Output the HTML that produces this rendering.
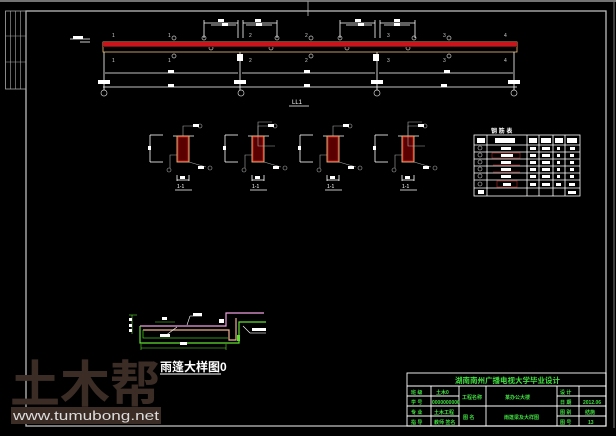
<!DOCTYPE html>
<html><head><meta charset="utf-8"><style>
html,body{margin:0;padding:0;background:#000;width:616px;height:436px;overflow:hidden}
svg{display:block}
text{font-family:"Liberation Sans","Noto Sans CJK SC",sans-serif}
</style></head><body>
<svg width="616" height="436" viewBox="0 0 616 436" xmlns="http://www.w3.org/2000/svg">
<rect width="616" height="436" fill="#000"/>
<!-- outer frame -->
<line x1="0" y1="1" x2="616" y2="1" stroke="#999" stroke-width="1.5"/>
<line x1="308" y1="1" x2="308" y2="16" stroke="#999"/>
<line x1="614" y1="1" x2="614" y2="428" stroke="#777"/>
<!-- inner frame -->
<rect x="26" y="11" width="580" height="415" fill="none" stroke="#bbb" stroke-width="1.3"/>
<!-- left strip -->
<rect x="5.5" y="11" width="20.5" height="78" fill="none" stroke="#aaa" stroke-width="0.8"/>
<line x1="10.5" y1="11" x2="10.5" y2="89" stroke="#aaa" stroke-width="0.6"/>
<line x1="15.5" y1="11" x2="15.5" y2="89" stroke="#aaa" stroke-width="0.6"/>
<line x1="20.5" y1="11" x2="20.5" y2="89" stroke="#aaa" stroke-width="0.6"/>
<line x1="5.5" y1="36" x2="26" y2="36" stroke="#aaa" stroke-width="0.6"/>
<line x1="5.5" y1="62" x2="26" y2="62" stroke="#aaa" stroke-width="0.6"/>

<!-- beam elevation -->
<g stroke="#fff" stroke-width="0.8" fill="none">
<line x1="70" y1="39" x2="90" y2="39"/><line x1="80" y1="42" x2="90" y2="42"/>
<line x1="103" y1="87" x2="517" y2="87"/>
<line x1="105" y1="73" x2="238" y2="73"/><line x1="242" y1="73" x2="375" y2="73"/><line x1="379" y1="73" x2="513" y2="73"/>
<line x1="104" y1="52" x2="104" y2="90"/><line x1="240" y1="52" x2="240" y2="90"/><line x1="377" y1="52" x2="377" y2="90"/><line x1="514" y1="52" x2="514" y2="90"/>
<!-- top dims -->
<line x1="204" y1="23" x2="238" y2="23"/><line x1="243" y1="23" x2="277" y2="23"/>
<line x1="211" y1="25" x2="236" y2="25"/><line x1="246" y1="25" x2="272" y2="25"/>
<line x1="204" y1="20" x2="204" y2="38"/><line x1="238" y1="20" x2="238" y2="38"/><line x1="243" y1="20" x2="243" y2="38"/><line x1="277" y1="20" x2="277" y2="38"/>
<line x1="340" y1="23" x2="375" y2="23"/><line x1="380" y1="23" x2="415" y2="23"/>
<line x1="346" y1="25" x2="372" y2="25"/><line x1="384" y1="25" x2="410" y2="25"/>
<line x1="340" y1="20" x2="340" y2="38"/><line x1="375" y1="20" x2="375" y2="38"/><line x1="380" y1="20" x2="380" y2="38"/><line x1="415" y1="20" x2="415" y2="38"/>
</g>
<g fill="#fff">
<rect x="73" y="36" width="10" height="3"/>
<rect x="218" y="19" width="6" height="3"/><rect x="222" y="23" width="6" height="3"/>
<rect x="255" y="19" width="6" height="3"/><rect x="256" y="23" width="6" height="3"/>
<rect x="355" y="19" width="6" height="3"/><rect x="358" y="23" width="6" height="3"/>
<rect x="394" y="19" width="6" height="3"/><rect x="394" y="23" width="6" height="3"/>
<rect x="168" y="70" width="6" height="3"/><rect x="304" y="70" width="6" height="3"/><rect x="444" y="70" width="6" height="3"/>
<rect x="168" y="84" width="6" height="3"/><rect x="304" y="84" width="6" height="3"/><rect x="441" y="84" width="6" height="3"/>
<rect x="98" y="80" width="12" height="4"/><rect x="234" y="80" width="12" height="4"/><rect x="371" y="80" width="12" height="4"/><rect x="508" y="80" width="12" height="4"/>
<rect x="237" y="54" width="6" height="7"/><rect x="373" y="54" width="6" height="7"/>
</g>
<g fill="#ccc" font-size="5">
<text x="112" y="37">1</text><text x="168" y="37">1</text><text x="249" y="37">2</text><text x="305" y="37">2</text><text x="387" y="37">3</text><text x="443" y="37">3</text><text x="504" y="37">4</text>
<text x="112" y="62">1</text><text x="168" y="62">1</text><text x="249" y="62">2</text><text x="305" y="62">2</text><text x="387" y="62">3</text><text x="443" y="62">3</text><text x="504" y="62">4</text>
</g>
<g fill="none" stroke="#ccc" stroke-width="0.7">
<circle cx="104" cy="93" r="3"/><circle cx="241" cy="93" r="3"/><circle cx="377" cy="93" r="3"/><circle cx="514" cy="93" r="3"/>
<circle cx="174" cy="38" r="2"/><circle cx="204" cy="38" r="2"/><circle cx="277" cy="38" r="2"/><circle cx="311" cy="38" r="2"/><circle cx="340" cy="38" r="2"/><circle cx="414" cy="38" r="2"/><circle cx="449" cy="38" r="2"/>
<circle cx="211" cy="48" r="2"/><circle cx="271" cy="48" r="2"/><circle cx="347" cy="48" r="2"/><circle cx="408" cy="48" r="2"/>
<circle cx="174" cy="56" r="2"/><circle cx="311" cy="56" r="2"/><circle cx="449" cy="56" r="2"/>
</g>
<rect x="103" y="42" width="414" height="10" fill="none" stroke="#f0c080" stroke-width="0.8"/>
<rect x="103" y="42" width="414" height="4" fill="#c8141a"/>
<rect x="103" y="46" width="414" height="1" fill="#7a1010"/>
<text x="292" y="104" fill="#fff" font-size="6">LL1</text>
<line x1="289" y1="106" x2="309" y2="106" stroke="#fff" stroke-width="0.8"/>

<!-- sections -->
<g id="s">
<g stroke="#fff" stroke-width="0.8" fill="none">
<line x1="150" y1="135" x2="150" y2="162"/><line x1="150" y1="135" x2="163" y2="135"/><line x1="150" y1="162" x2="163" y2="162"/>
<line x1="173" y1="136" x2="194" y2="136"/>
<line x1="177" y1="175" x2="177" y2="181"/><line x1="189" y1="175" x2="189" y2="181"/><line x1="177" y1="180" x2="189" y2="180"/>
<line x1="175" y1="190" x2="192" y2="190"/>
</g>
<g stroke="#aaa" stroke-width="0.6" fill="none">
<polyline points="183,138 183,126 197,126"/><polyline points="189,162 206,167"/><polyline points="177,155 170,155 170,168"/>
<circle cx="200" cy="126" r="2"/><circle cx="210" cy="168" r="2"/><circle cx="169" cy="170" r="2"/>
</g>
<rect x="177" y="136" width="12" height="26" fill="#5a0000" stroke="#f0c080" stroke-width="0.9"/>
<rect x="178" y="137" width="10" height="24" fill="none" stroke="#d02020" stroke-width="0.8"/>
<g fill="#fff"><rect x="148" y="146" width="3" height="4"/><rect x="180" y="176" width="5" height="3"/><rect x="193" y="124" width="6" height="3"/><rect x="198" y="166" width="6" height="3"/></g>
<text x="177" y="188" fill="#fff" font-size="5">1-1</text>
</g>
<use href="#s" x="75"/><use href="#s" x="150"/><use href="#s" x="225"/>
<g stroke="#aaa" stroke-width="0.6" fill="none">
<polyline points="258,138 258,122 272,122"/><polyline points="408,138 408,122 422,122"/>
<polyline points="258,138 258,146 275,146"/><polyline points="408,138 408,146 425,146"/>
</g>

<!-- table -->
<text x="491" y="133" fill="#fff" font-size="6" font-weight="bold">钢 筋 表</text>
<g stroke="#fff" stroke-width="0.8" fill="none">
<rect x="474" y="135" width="106" height="61"/>
<line x1="474" y1="145" x2="580" y2="145"/><line x1="474" y1="152" x2="580" y2="152"/><line x1="474" y1="159" x2="580" y2="159"/><line x1="474" y1="166" x2="580" y2="166"/><line x1="474" y1="173" x2="580" y2="173"/><line x1="474" y1="180" x2="580" y2="180"/><line x1="474" y1="188" x2="580" y2="188"/>
<line x1="487" y1="135" x2="487" y2="196"/><line x1="527" y1="135" x2="527" y2="196"/><line x1="539" y1="135" x2="539" y2="196"/><line x1="553" y1="135" x2="553" y2="196"/><line x1="565" y1="135" x2="565" y2="196"/>
</g>
<g fill="#fff">
<rect x="477" y="138" width="8" height="5"/><rect x="495" y="138" width="20" height="5"/><rect x="529" y="138" width="8" height="5"/><rect x="541" y="138" width="10" height="5"/><rect x="555" y="138" width="8" height="5"/><rect x="567" y="138" width="10" height="5"/>
<rect x="501" y="147" width="10" height="3"/><rect x="501" y="154" width="12" height="3"/><rect x="501" y="161" width="10" height="3"/><rect x="501" y="168" width="10" height="3"/><rect x="501" y="175" width="10" height="3"/><rect x="503" y="183" width="8" height="3"/>
<rect x="530" y="147" width="6" height="3"/><rect x="530" y="154" width="6" height="3"/><rect x="530" y="161" width="6" height="3"/><rect x="530" y="168" width="6" height="3"/><rect x="530" y="175" width="6" height="3"/><rect x="530" y="183" width="6" height="3"/>
<rect x="542" y="147" width="8" height="3"/><rect x="542" y="154" width="8" height="3"/><rect x="542" y="161" width="8" height="3"/><rect x="542" y="168" width="8" height="3"/><rect x="542" y="175" width="8" height="3"/><rect x="542" y="183" width="8" height="3"/>
<rect x="557" y="147" width="3" height="3"/><rect x="557" y="154" width="3" height="3"/><rect x="557" y="161" width="3" height="3"/><rect x="557" y="168" width="3" height="3"/><rect x="557" y="175" width="3" height="3"/><rect x="556" y="183" width="5" height="3"/>
<rect x="570" y="147" width="5" height="3"/><rect x="570" y="154" width="4" height="3"/><rect x="570" y="161" width="4" height="3"/><rect x="570" y="168" width="4" height="3"/><rect x="570" y="175" width="4" height="3"/><rect x="569" y="183" width="6" height="3"/><rect x="568" y="191" width="8" height="3"/>
<rect x="478" y="190" width="6" height="4"/>
</g>
<g fill="none" stroke="#ccc" stroke-width="0.6"><circle cx="480" cy="148" r="2"/><circle cx="480" cy="155" r="2"/><circle cx="480" cy="162" r="2"/><circle cx="480" cy="169" r="2"/><circle cx="480" cy="176" r="2"/><circle cx="480" cy="184" r="2"/></g>
<g fill="none" stroke="#a02020" stroke-width="0.7"><rect x="492" y="153" width="28" height="5"/><rect x="497" y="181" width="20" height="6"/><line x1="493" y1="165" x2="520" y2="165"/><line x1="493" y1="172" x2="520" y2="172"/></g>

<!-- canopy detail -->
<g fill="none" stroke-width="1.2">
<polyline points="140,326 226,326 226,313 264,313" stroke="#f0a0e0"/>
<polyline points="140,326 140,343 239,343 239,322 266,322" stroke="#60e030"/>
<polyline points="143,330 229,330 229,340 236,340 236,318" stroke="#f0b090"/>
<polyline points="143,330 143,338 228,338" stroke="#40c020" stroke-width="0.8"/>
</g>
<g stroke="#60e030" stroke-width="0.6" fill="none">
<line x1="132" y1="315" x2="132" y2="334"/><line x1="129" y1="315" x2="137" y2="315"/>
<line x1="141" y1="348" x2="226" y2="348"/><line x1="141" y1="344" x2="141" y2="350"/><line x1="226" y1="344" x2="226" y2="350"/>
<line x1="155" y1="322" x2="175" y2="322"/>
</g>
<g stroke="#fff" stroke-width="0.6"><line x1="187" y1="325" x2="190" y2="316"/><line x1="190" y1="316" x2="202" y2="316"/><line x1="243" y1="326" x2="250" y2="333"/><line x1="250" y1="333" x2="266" y2="333"/><line x1="165" y1="336" x2="177" y2="327"/></g>
<g fill="#fff"><rect x="129" y="318" width="3" height="3"/><rect x="129" y="324" width="3" height="3"/><rect x="129" y="329" width="3" height="3"/><rect x="162" y="317" width="5" height="3"/><rect x="193" y="313" width="9" height="3"/><rect x="252" y="328" width="14" height="3"/><rect x="160" y="334" width="10" height="3"/><rect x="180" y="342" width="7" height="3"/><rect x="219" y="319" width="5" height="4"/></g>
<rect x="237" y="335" width="3" height="6" fill="#60e030"/>
<text x="160" y="371" fill="#fff" font-size="12" font-weight="bold" font-family="'Noto Sans CJK SC',sans-serif">雨篷大样图0</text>
<line x1="160" y1="374" x2="221" y2="374" stroke="#fff" stroke-width="1"/>

<!-- watermark -->
<text x="10" y="402" fill="#3b2c25" font-size="50" font-weight="bold" font-family="'Noto Sans CJK SC',sans-serif" textLength="150" lengthAdjust="spacingAndGlyphs">土木帮</text>
<rect x="11" y="407" width="150" height="17" fill="#3b2c25"/>
<text x="13" y="420" fill="#ddd" font-size="13" font-family="'Liberation Mono',monospace" textLength="146" lengthAdjust="spacingAndGlyphs">www.tumubong.net</text>

<!-- title block -->
<g stroke="#fff" stroke-width="0.9" fill="none">
<rect x="407" y="373" width="199" height="53"/>
<line x1="407" y1="386" x2="606" y2="386"/>
<line x1="407" y1="396" x2="459" y2="396"/><line x1="557" y1="396" x2="606" y2="396"/>
<line x1="407" y1="406" x2="606" y2="406"/>
<line x1="407" y1="416" x2="459" y2="416"/><line x1="557" y1="416" x2="606" y2="416"/>
<line x1="431" y1="386" x2="431" y2="426"/><line x1="459" y1="386" x2="459" y2="426"/><line x1="486" y1="386" x2="486" y2="426"/><line x1="557" y1="386" x2="557" y2="426"/><line x1="579" y1="386" x2="579" y2="426"/>
</g>
<g fill="#40e040" font-family="'Noto Sans CJK SC',sans-serif" font-weight="bold">
<text x="455" y="383" font-size="7.5">湖南南州广播电视大学毕业设计</text>
<text x="411" y="394" font-size="5">班 级</text><text x="411" y="404" font-size="5">学 号</text><text x="411" y="414" font-size="5">专 业</text><text x="411" y="424" font-size="5">指 导</text>
<text x="436" y="394" font-size="5">土木0</text><text x="432" y="404" font-size="5">0000000000</text><text x="434" y="414" font-size="5">土木工程</text><text x="434" y="424" font-size="5">教师 签名</text>
<text x="462" y="399" font-size="5">工程名称</text><text x="463" y="419" font-size="5">图 名</text>
<text x="505" y="399" font-size="5">某办公大楼</text><text x="504" y="419" font-size="5">雨篷梁及大样图</text>
<text x="560" y="394" font-size="5">设 计</text><text x="560" y="404" font-size="5">日 期</text><text x="560" y="414" font-size="5">图 别</text><text x="560" y="424" font-size="5">图 号</text>
<text x="583" y="404" font-size="5">2012.06</text><text x="585" y="414" font-size="5">结施</text><text x="588" y="424" font-size="5">13</text>
</g>
</svg>
</body></html>
